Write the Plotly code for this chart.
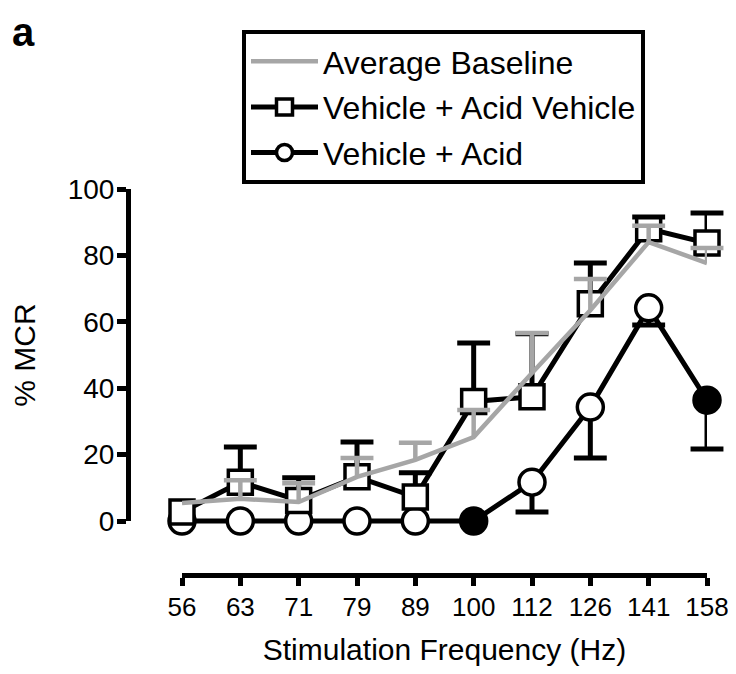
import plotly.graph_objects as go

# ---------------- data ----------------
categories = ["56", "63", "71", "79", "89", "100", "112", "126", "141", "158"]

baseline = [5.4, 6.7, 5.7, 13.3, 18.4, 25.3, 44.6, 63.5, 84.0, 77.7]
baseline_err = [0, 5.6, 5.7, 5.7, 5.2, 8.1, 12.0, 9.4, 4.9, 4.5]

vehicle_acid_vehicle = [2.7, 11.7, 6.2, 13.3, 7.2, 36.0, 37.4, 65.4, 88.0, 83.7]
vav_err = [0, 10.6, 6.8, 10.5, 7.3, 17.6, 19.0, 12.3, 3.6, 9.1]

vehicle_acid = [0, 0, 0, 0, 0, 0, 11.7, 34.3, 64.2, 36.4]
va_err = [0, 0, 0, 0, 0, 0, 9.0, 15.3, 5.2, 14.7]
va_significant = [False, False, False, False, False, True, False, False, False, True]

y_ticks = [0, 20, 40, 60, 80, 100]

# ---------------- style ----------------
PAGE_OFF = 8               # default body margin of the html page
W, H = 736 - 2 * PAGE_OFF, 674 - 2 * PAGE_OFF
FONT = "Arial, Liberation Sans, sans-serif"
GRAY = "#a6a6a6"
BLACK = "#000000"
LW = 5
GLW = 4.5
CAP_SIZE = 23.5


def fx(px):
    return (px - PAGE_OFF) / W


def fy(py):
    return 1 - (py - PAGE_OFF) / H


# layout geometry (page pixels)
x_left_px, x_right_px = 182, 707
y0_px, y100_px = 521, 189
yaxis_x_px = 128
xaxis_y_px = 575

p0 = fy(y0_px)
p100 = fy(y100_px)
per_unit = (p100 - p0) / 100.0
data_dom = [0.05, 0.95]
y_lo = 0 - (p0 - data_dom[0]) / per_unit
y_hi = 100 + (data_dom[1] - p100) / per_unit


def up_caps(vals, errs):
    return [v + e if e > 0 else None for v, e in zip(vals, errs)]


def down_caps(vals, errs):
    return [v - e if e > 0 else None for v, e in zip(vals, errs)]


zeros = [0] * len(categories)
fig = go.Figure()

# Vehicle + Acid (circles) - bottom layer
fig.add_trace(go.Scatter(
    x=categories, y=vehicle_acid, name="Vehicle + Acid",
    mode="lines+markers", legendgroup="c",
    line=dict(color=BLACK, width=LW),
    marker=dict(symbol="circle", size=26,
                color=[BLACK if s else "white" for s in va_significant],
                line=dict(color=BLACK, width=3.5)),
    error_y=dict(type="data", symmetric=False, array=zeros, arrayminus=va_err,
                 width=0, thickness=LW, color=BLACK),
    cliponaxis=False, legendrank=3,
))
fig.add_trace(go.Scatter(
    x=categories, y=down_caps(vehicle_acid, va_err), mode="markers",
    marker=dict(symbol="line-ew", size=CAP_SIZE, line=dict(color=BLACK, width=LW)),
    showlegend=False, hoverinfo="skip", cliponaxis=False,
))

# Vehicle + Acid Vehicle (squares)
fig.add_trace(go.Scatter(
    x=categories, y=vehicle_acid_vehicle, name="Vehicle + Acid Vehicle",
    mode="lines+markers", legendgroup="b",
    line=dict(color=BLACK, width=LW),
    marker=dict(symbol="square", size=24, color="white",
                line=dict(color=BLACK, width=3.5)),
    error_y=dict(type="data", symmetric=False, array=vav_err, arrayminus=zeros,
                 width=0, thickness=LW, color=BLACK),
    cliponaxis=False, legendrank=2,
))
fig.add_trace(go.Scatter(
    x=categories, y=up_caps(vehicle_acid_vehicle, vav_err), mode="markers",
    marker=dict(symbol="line-ew", size=CAP_SIZE, line=dict(color=BLACK, width=LW)),
    showlegend=False, hoverinfo="skip", cliponaxis=False,
))

# Average Baseline (gray line) - top layer
fig.add_trace(go.Scatter(
    x=categories, y=baseline, name="Average Baseline",
    mode="lines", legendgroup="a",
    line=dict(color=GRAY, width=GLW),
    error_y=dict(type="data", symmetric=False, array=baseline_err, arrayminus=zeros,
                 width=0, thickness=GLW, color=GRAY),
    cliponaxis=False, legendrank=1,
))
fig.add_trace(go.Scatter(
    x=categories, y=up_caps(baseline, baseline_err), mode="markers",
    marker=dict(symbol="line-ew", size=CAP_SIZE, line=dict(color=GRAY, width=GLW)),
    showlegend=False, hoverinfo="skip", cliponaxis=False,
))

# dummy trace so the display y-axis is drawn
fig.add_trace(go.Scatter(x=[], y=[], xaxis="x", yaxis="y2",
                         showlegend=False, hoverinfo="skip"))

fig.update_layout(
    width=W, height=H,
    margin=dict(l=0, r=0, t=0, b=0),
    paper_bgcolor="white", plot_bgcolor="rgba(0,0,0,0)",
    font=dict(family=FONT, color=BLACK, size=26),
    showlegend=True,
    legend=dict(
        x=fx(242), y=fy(30), xanchor="left", yanchor="top",
        bordercolor=BLACK, borderwidth=4, bgcolor="white",
        font=dict(family=FONT, size=32, color=BLACK),
        itemwidth=67, traceorder="grouped", tracegroupgap=1,
    ),
    xaxis=dict(
        type="category", domain=[fx(x_left_px), fx(x_right_px)], range=[0, 9],
        anchor="free", position=fy(xaxis_y_px),
        showline=True, linecolor=BLACK, linewidth=LW,
        ticks="outside", ticklen=8, tickwidth=LW, tickcolor=BLACK,
        showgrid=False, zeroline=False,
        tickfont=dict(family=FONT, size=26, color=BLACK),
        ticklabelstandoff=-1,
        title=dict(text="Stimulation Frequency (Hz)",
                   font=dict(family=FONT, size=30, color=BLACK), standoff=22),
        automargin=False,
    ),
    yaxis=dict(
        domain=data_dom, range=[y_lo, y_hi], anchor="x",
        visible=False, showgrid=False, zeroline=False,
    ),
    yaxis2=dict(
        domain=[p0, p100], range=[0, 100], anchor="free", position=fx(yaxis_x_px),
        side="left",
        tickvals=y_ticks, ticktext=[str(v) for v in y_ticks],
        showline=True, linecolor=BLACK, linewidth=LW,
        ticks="outside", ticklen=9, tickwidth=LW, tickcolor=BLACK,
        showgrid=False, zeroline=False,
        tickfont=dict(family=FONT, size=28, color=BLACK),
        ticklabelstandoff=-3,
        title=dict(text="% MCR", font=dict(family=FONT, size=30, color=BLACK),
                   standoff=22),
        automargin=False,
    ),
    annotations=[dict(
        text="<b>a</b>", x=0, y=1.0, xref="paper", yref="paper",
        xanchor="left", yanchor="top", yshift=0, xshift=2, showarrow=False,
        font=dict(family=FONT, size=40, color=BLACK),
    )],
)

fig.write_html("out.html")
